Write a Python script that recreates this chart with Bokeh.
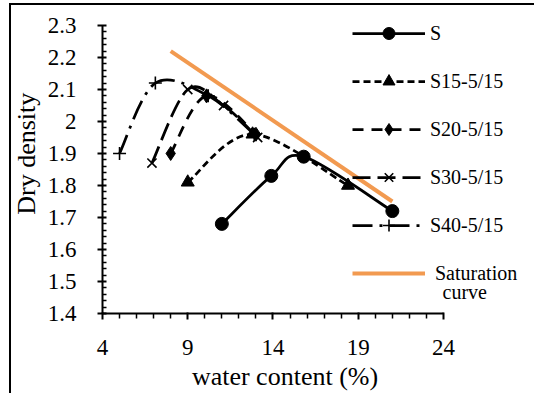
from bokeh.plotting import figure
from bokeh.models import Range1d, FixedTicker, Legend, LegendItem, Label
from bokeh.embed import file_html
from bokeh.resources import INLINE

# ---- data ----
x_ticks = [4, 9, 14, 19, 24]
x_minor = [5, 6, 7, 8, 10, 11, 12, 13, 15, 16, 17, 18, 20, 21, 22, 23]
y_ticks = [1.4, 1.5, 1.6, 1.7, 1.8, 1.9, 2.0, 2.1, 2.2, 2.3]
y_tick_labels = ["1.4", "1.5", "1.6", "1.7", "1.8", "1.9", "2", "2.1", "2.2", "2.3"]
y_minor = [1.42, 1.44, 1.46, 1.48, 1.52, 1.54, 1.56, 1.58, 1.62, 1.64, 1.66, 1.68,
           1.72, 1.74, 1.76, 1.78, 1.82, 1.84, 1.86, 1.88, 1.92, 1.94, 1.96, 1.98,
           2.02, 2.04, 2.06, 2.08, 2.12, 2.14, 2.16, 2.18, 2.22, 2.24, 2.26, 2.28]

s_w = [11.0, 13.9, 15.8, 21.0]
s_d = [1.68, 1.83, 1.89, 1.72]
s15_w = [9.0, 12.8, 18.4]
s15_d = [1.81, 1.96, 1.80]
s20_w = [8.0, 10.1, 13.0]
s20_d = [1.90, 2.08, 1.96]
s30_w = [6.9, 9.0, 11.1, 13.1]
s30_d = [1.87, 2.10, 2.05, 1.95]
s40_w = [5.0, 7.1, 10.2, 12.9]
s40_d = [1.90, 2.12, 2.08, 1.96]
sat_w = [8.0, 21.0]
sat_d = [2.22, 1.75]

series_names = ["S", "S15-5/15", "S20-5/15", "S30-5/15", "S40-5/15"]
sat_name = " Saturation"
sat_name2 = "curve"
x_title = "water content (%)"
y_title = "Dry density"

FONT = "Liberation Serif"
ORANGE = "#F29A50"
NB = "\u00a0"

X_MIN, X_MAX = 4, 24          # axis extent
Y_MIN, Y_MAX = 1.4, 2.3
X_VIEW_MAX = 29.22            # frame runs on to the right so the legend fits inside it
Y_VIEW_MAX = 2.378            # and up to the top so nothing of the legend is clipped


def smooth(xs, ys):
    """Excel-style smoothed line: Catmull-Rom converted to cubic Bezier segments."""
    n = len(xs)
    d = dict(x0=[], y0=[], x1=[], y1=[], cx0=[], cy0=[], cx1=[], cy1=[])
    for i in range(n - 1):
        xp, yp = (xs[i - 1], ys[i - 1]) if i > 0 else (xs[i], ys[i])
        xq, yq = (xs[i + 2], ys[i + 2]) if i + 2 < n else (xs[i + 1], ys[i + 1])
        d["x0"].append(xs[i]); d["y0"].append(ys[i])
        d["x1"].append(xs[i + 1]); d["y1"].append(ys[i + 1])
        d["cx0"].append(xs[i] + (xs[i + 1] - xp) / 6.0)
        d["cy0"].append(ys[i] + (ys[i + 1] - yp) / 6.0)
        d["cx1"].append(xs[i + 1] - (xq - xs[i]) / 6.0)
        d["cy1"].append(ys[i + 1] - (yq - ys[i]) / 6.0)
    return d


p = figure(width=534, height=393, output_backend="svg", toolbar_location=None,
           x_range=Range1d(X_MIN, X_VIEW_MAX), y_range=Range1d(Y_MIN, Y_VIEW_MAX),
           min_border_left=102, min_border_right=2, min_border_top=0, min_border_bottom=80)
p.outline_line_color = None
p.xgrid.visible = False
p.ygrid.visible = False
p.background_fill_color = "white"
p.border_fill_color = "white"

# saturation curve
sat_r = p.line(sat_w, sat_d, line_color=ORANGE, line_width=4)

styles = [
    (s_w, s_d, None, "circle", 13),
    (s15_w, s15_d, "7 4", "triangle", 13),
    (s20_w, s20_d, "11 8", "diamond", 14),
    (s30_w, s30_d, "18 7", "x", 13),
    (s40_w, s40_d, "20 7 3 7", "cross", 13),
]

legend_items = []
for (xs, ys, dash, marker, size), name in zip(styles, series_names):
    seg = smooth(xs, ys)
    kw = dict(line_color="black", line_width=2.75)
    if dash:
        kw["line_dash"] = dash
    br = p.bezier(x0="x0", y0="y0", x1="x1", y1="y1", cx0="cx0", cy0="cy0",
                  cx1="cx1", cy1="cy1", source=seg, **kw)
    mk = dict(marker=marker, size=size, fill_color="black", line_color="black")
    if marker in ("x", "cross"):
        mk["line_width"] = 1.6
    sr = p.scatter(xs, ys, **mk)
    legend_items.append(LegendItem(label=name, renderers=[br, sr]))

legend_items.append(LegendItem(label=sat_name, renderers=[sat_r]))

legend = Legend(items=legend_items, location=(250, 25), padding=0, margin=0,
                glyph_width=73, glyph_height=30, label_height=30, spacing=18,
                label_standoff=5, border_line_color=None, background_fill_alpha=0,
                label_text_font=FONT, label_text_font_size="20px",
                label_text_color="black")
p.add_layout(legend, "center")
p.add_layout(Label(x=340, y=22, x_units="screen", y_units="screen", text=sat_name2,
                   text_font=FONT, text_font_size="20px", text_color="black",
                   text_baseline="middle"))

# axes
xa = p.xaxis[0]
xa.ticker = FixedTicker(ticks=x_ticks, minor_ticks=x_minor)
xa.bounds = (X_MIN, X_MAX)
xa.axis_label = x_title + NB * 10
ya = p.yaxis[0]
ya.ticker = FixedTicker(ticks=y_ticks, minor_ticks=y_minor)
ya.bounds = (Y_MIN, Y_MAX)
ya.major_label_overrides = dict(zip(y_ticks, y_tick_labels))
ya.axis_label = NB + y_title

for ax in (xa, ya):
    ax.axis_line_width = 2
    ax.axis_line_color = "black"
    ax.major_tick_line_width = 2
    ax.minor_tick_line_width = 1.5
    ax.major_tick_line_color = "black"
    ax.minor_tick_line_color = "black"
    ax.major_label_text_font = FONT
    ax.major_label_text_font_size = "23px"
    ax.major_label_text_color = "black"
    ax.axis_label_text_font = FONT
    ax.axis_label_text_font_size = "26px"
    ax.axis_label_text_font_style = "normal"
    ax.axis_label_text_color = "black"

xa.major_tick_out = 6
xa.major_tick_in = 1
xa.minor_tick_out = 5
xa.minor_tick_in = 0
xa.major_label_standoff = 20
xa.axis_label_standoff = 4

ya.major_tick_out = 5
ya.major_tick_in = 4
ya.minor_tick_out = 0
ya.minor_tick_in = 4
ya.major_label_standoff = 21
ya.axis_label_standoff = 4

html = file_html(p, INLINE)
# the chart's outer frame (left and top edges of the original picture's border)
frame_div = ('<div style="position:fixed;left:9px;top:3px;right:0;bottom:0;'
             'border-left:2px solid #000;border-top:2px solid #000;'
             'pointer-events:none;z-index:10"></div>\n')
cut = html.rfind("</body>")
html = html[:cut] + frame_div + html[cut:]
open("out.html", "w").write(html)
